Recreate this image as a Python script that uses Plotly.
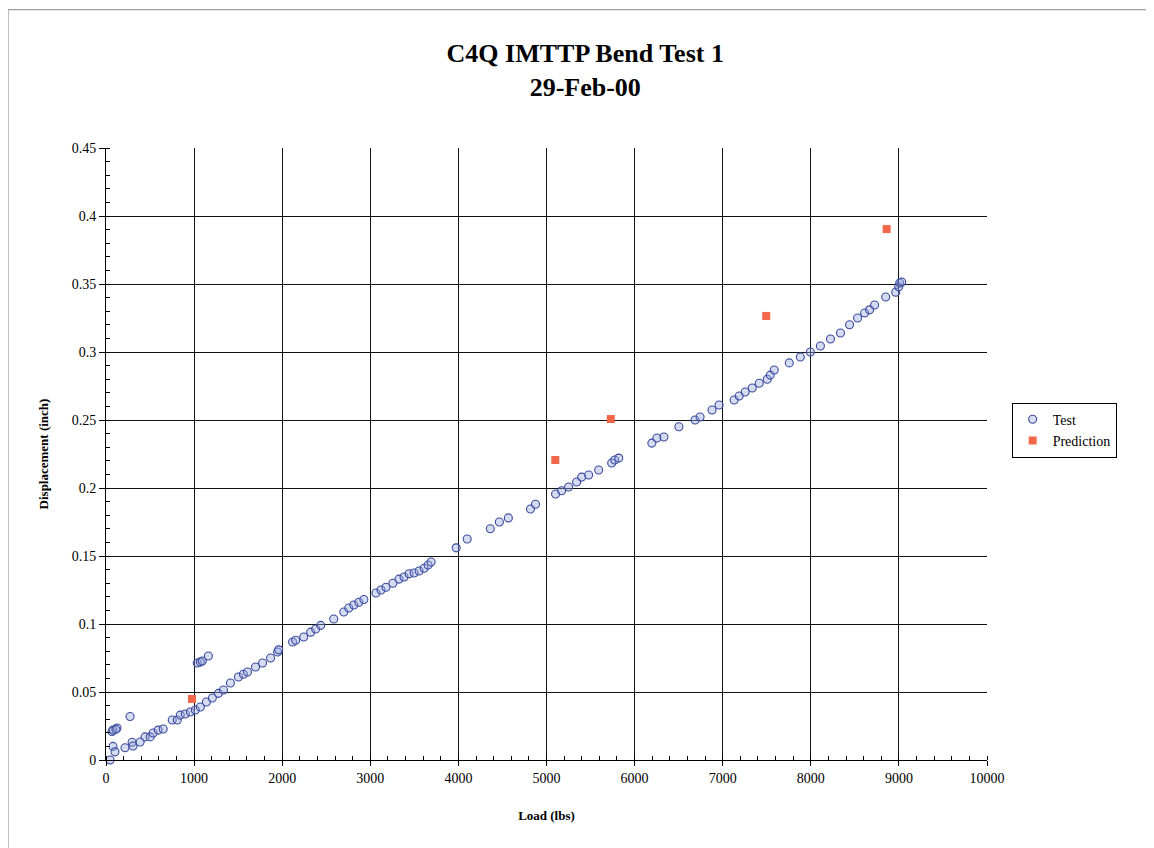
import plotly.graph_objects as go

# Test data: load (lbs) vs displacement (inch)
test_load = [46, 68, 80, 80, 102, 125, 113, 216, 273, 296, 307, 387, 444, 501, 535, 592, 649,
             752, 809, 843, 900, 957, 1014, 1036, 1071, 1071, 1093, 1139, 1162, 1207, 1276, 1333,
             1412, 1503, 1560, 1606, 1697, 1777, 1868, 1948, 1960, 2118, 2153, 2244, 2323, 2380,
             2437, 2585, 2699, 2756, 2813, 2870, 2927, 3064, 3121, 3178, 3257, 3326, 3383, 3440,
             3497, 3554, 3611, 3656, 3690, 3975, 4100, 4362, 4465, 4567, 4818, 4875, 5103, 5171,
             5251, 5342, 5399, 5478, 5592, 5740, 5774, 5820, 6196, 6253, 6333, 6503, 6686, 6743,
             6879, 6959, 7130, 7187, 7255, 7335, 7415, 7506, 7540, 7585, 7756, 7881, 7995, 8109,
             8223, 8337, 8440, 8531, 8611, 8667, 8724, 8850, 8964, 8998, 9009, 9032]
test_disp = [0.000, 0.021, 0.022, 0.010, 0.006, 0.0235, 0.0225, 0.009, 0.032, 0.013, 0.0103,
             0.0132, 0.017, 0.017, 0.0199, 0.022, 0.0228, 0.0294, 0.0294, 0.033, 0.0338, 0.0353,
             0.0368, 0.0713, 0.039, 0.072, 0.0728, 0.0426, 0.0765, 0.0456, 0.049, 0.0515, 0.0566,
             0.061, 0.063, 0.0647, 0.0684, 0.0713, 0.075, 0.0794, 0.081, 0.0868, 0.088, 0.0904,
             0.094, 0.0963, 0.099, 0.1037, 0.1088, 0.1118, 0.114, 0.116, 0.118, 0.1228, 0.125,
             0.127, 0.130, 0.133, 0.1346, 0.137, 0.1375, 0.139, 0.141, 0.1434, 0.1456, 0.156,
             0.1625, 0.170, 0.175, 0.178, 0.1846, 0.188, 0.1956, 0.198, 0.2007, 0.2044, 0.208,
             0.2096, 0.2132, 0.2184, 0.2206, 0.222, 0.233, 0.2368, 0.2375, 0.245, 0.250, 0.2522,
             0.2574, 0.261, 0.2647, 0.2676, 0.2706, 0.2735, 0.277, 0.280, 0.283, 0.2868, 0.292,
             0.2963, 0.300, 0.3044, 0.3096, 0.314, 0.320, 0.325, 0.3287, 0.331, 0.3346, 0.3404,
             0.344, 0.348, 0.3507, 0.3515]

# Prediction points
pred_load = [976, 5100, 5730, 7494, 8861]
pred_disp = [0.0449, 0.2206, 0.2507, 0.3265, 0.3904]

serif = "Liberation Serif, Times New Roman, serif"

fig = go.Figure()
fig.add_trace(go.Scatter(
    x=test_load, y=test_disp, mode="markers", name="Test",
    marker=dict(symbol="circle", size=8, color="rgba(150,165,220,0.4)",
                line=dict(color="#3b4b9e", width=1.1)),
    cliponaxis=False))
fig.add_trace(go.Scatter(
    x=pred_load, y=pred_disp, mode="markers", name="Prediction",
    marker=dict(symbol="square", size=8, color="#f2664a", line=dict(width=0)),
    cliponaxis=False))

fig.update_layout(
    width=1154, height=848,
    margin=dict(l=98, r=175, t=140, b=96),
    paper_bgcolor="white", plot_bgcolor="white",
    font=dict(family=serif, color="black", size=14),
    title=dict(text="<b>C4Q IMTTP Bend Test 1</b><br><b>29-Feb-00</b>",
               x=0.544, xref="paper", xanchor="center",
               y=1 - 54 / 848, yref="container", yanchor="top",
               font=dict(family=serif, size=26, color="black")),
    showlegend=True,
    legend=dict(x=1.028, y=0.539, xanchor="left", yanchor="middle",
                bordercolor="black", borderwidth=1, bgcolor="white",
                font=dict(family=serif, size=14), itemsizing="trace",
                tracegroupgap=0, itemwidth=30),
    shapes=[dict(type="rect", xref="paper", yref="paper",
                 x0=-0.1112, x1=1.1862, y0=-0.147, y1=1.226,
                 line=dict(color="#888", width=1), layer="below")],
)

fig.update_xaxes(
    range=[0, 10000], dtick=1000, tick0=0, tickformat="d",
    title=dict(text="<b>Load (lbs)</b>", font=dict(family=serif, size=13), standoff=26),
    showgrid=True, gridcolor="#111", gridwidth=1,
    showline=True, linecolor="black", linewidth=1, zeroline=False,
    ticks="outside", ticklen=5, tickcolor="black",
    minor=dict(dtick=200, ticks="inside", ticklen=4, tickcolor="black", showgrid=False),
    tickfont=dict(family=serif, size=14))
fig.update_yaxes(
    range=[0, 0.45], dtick=0.05, tick0=0,
    title=dict(text="<b>Displacement (inch)</b>", font=dict(family=serif, size=13), standoff=20),
    showgrid=True, gridcolor="#111", gridwidth=1,
    showline=True, linecolor="black", linewidth=1, zeroline=False,
    ticks="outside", ticklen=6, tickcolor="black",
    minor=dict(dtick=0.01, ticks="inside", ticklen=4, tickcolor="black", showgrid=False),
    tickfont=dict(family=serif, size=14))

fig.write_html("out.html")
